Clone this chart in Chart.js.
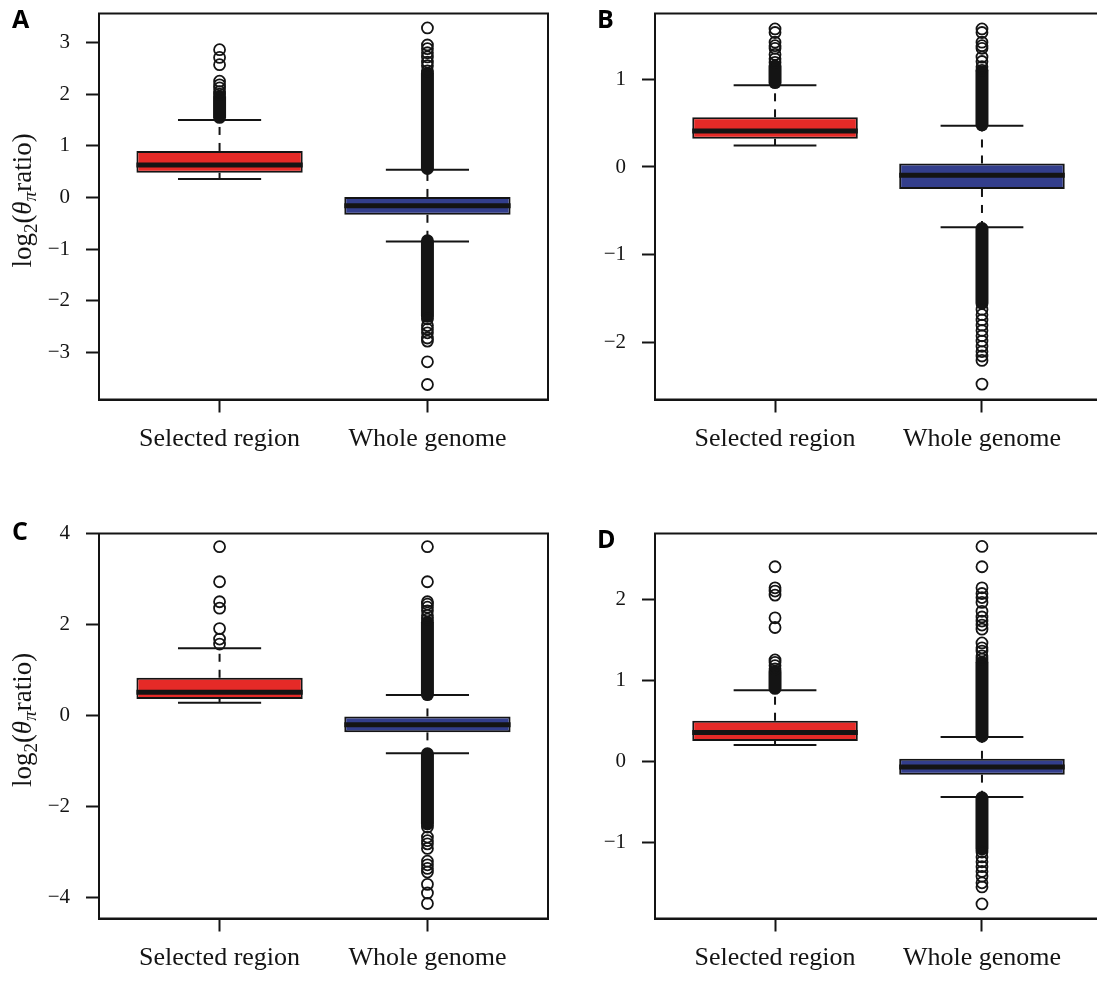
<!DOCTYPE html>
<html>
<head>
<meta charset="utf-8">
<title>theta pi ratio boxplots</title>
<script src="https://cdn.jsdelivr.net/npm/chart.js@4.4.0/dist/chart.umd.min.js"></script>
<style>
  html, body { margin: 0; padding: 0; background: #fff; overflow: hidden; width: 1097px; height: 981px; }
  .panel { position: absolute; }
</style>
</head>
<body>
<div class="panel" id="wrapA"><canvas id="chartA" width="560" height="480"></canvas></div>
<div class="panel" id="wrapB"><canvas id="chartB" width="560" height="480"></canvas></div>
<div class="panel" id="wrapC"><canvas id="chartC" width="560" height="480"></canvas></div>
<div class="panel" id="wrapD"><canvas id="chartD" width="560" height="480"></canvas></div>

<script>
// Groups on the x axis
const groupNames = ['Selected region', 'Whole genome'];

// Box stats per group: [lower whisker, Q1, median, Q3, upper whisker]
// dense = runs of outliers so close they read as a solid column: [from, to]
// out = single outliers that can be told apart

// Panel A
const statsA_sel = [0.355, 0.48, 0.63, 0.90, 1.50];
const statsA_whole = [-0.85, -0.335, -0.16, 0.01, 0.535];
const denseA_sel = [[1.55, 1.95]];
const denseA_whole = [[0.56, 2.40], [-0.84, -2.30]];
const outA_sel = [2.0, 2.05, 2.12, 2.18, 2.25, 2.57, 2.71, 2.86];
const outA_whole = [2.45, 2.55, 2.62, 2.72, 2.8, 2.88, 2.95, 3.28, -2.35, -2.48, -2.55, -2.62, -2.72, -2.78, -3.18, -3.62];
const yRangeA = [-3.91, 3.56];
const yTicksA = [-3, -2, -1, 0, 1, 2, 3];

// Panel B
const statsB_sel = [0.245, 0.32, 0.41, 0.565, 0.93];
const statsB_whole = [-0.685, -0.25, -0.095, 0.04, 0.47];
const denseB_sel = [[0.96, 1.15]];
const denseB_whole = [[0.48, 1.08], [-0.70, -1.55]];
const outB_sel = [1.19, 1.23, 1.28, 1.35, 1.38, 1.42, 1.53, 1.57];
const outB_whole = [1.1, 1.14, 1.2, 1.25, 1.35, 1.38, 1.42, 1.53, 1.57,
  -1.62, -1.68, -1.74, -1.8, -1.86, -1.92, -1.98, -2.04, -2.1, -2.15, -2.2, -2.47];
const yRangeB = [-2.645, 1.746];
const yTicksB = [-2, -1, 0, 1];

// Panel C
const statsC_sel = [0.28, 0.365, 0.51, 0.83, 1.48];
const statsC_whole = [-0.83, -0.37, -0.2, -0.02, 0.45];
const denseC_sel = [];
const denseC_whole = [[0.46, 2.05], [-0.84, -2.38]];
const outC_sel = [1.57, 1.68, 1.91, 2.36, 2.50, 2.94, 3.71];
const outC_whole = [2.12, 2.2, 2.3, 2.38, 2.45, 2.5, 2.94, 3.71,
  -2.45, -2.67, -2.75, -2.82, -2.92, -3.2, -3.28, -3.36, -3.44, -3.71, -3.9, -4.13];
const yRangeC = [-4.46, 4.0];
const yTicksC = [-4, -2, 0, 2, 4];

// Panel D
const statsD_sel = [0.2, 0.25, 0.355, 0.5, 0.875];
const statsD_whole = [-0.44, -0.165, -0.07, 0.03, 0.30];
const denseD_sel = [[0.9, 1.1]];
const denseD_whole = [[0.31, 1.22], [-0.45, -1.08]];
const outD_sel = [1.14, 1.18, 1.22, 1.25, 1.65, 1.77, 2.05, 2.10, 2.14, 2.40];
const outD_whole = [1.26, 1.3, 1.36, 1.4, 1.46, 1.63, 1.68, 1.73, 1.78, 1.85, 1.96, 2.02, 2.07, 2.14, 2.40, 2.65,
  -1.12, -1.18, -1.24, -1.3, -1.36, -1.42, -1.5, -1.55, -1.76];
const yRangeD = [-1.94, 2.81];
const yTicksD = [-1, 0, 1, 2];

const RED = '#E52A27';
const BLUE = '#333E8C';
const INK = '#141414';
const SERIF = '"Liberation Serif", "Times New Roman", serif';

function segment(points, width, dash, order) {
    return {
        type: 'line',
        data: points,
        borderColor: INK,
        borderWidth: width,
        borderDash: dash,
        pointRadius: 0,
        fill: false,
        tension: 0,
        order: order
    };
}

function buildDatasets(stats, dense, outs) {
    const datasets = [];

    // boxes as floating bars from Q1 to Q3
    datasets.push({
        type: 'bar',
        data: stats.map((s, i) => ({ x: i + 1, y: [s[1], s[3]] })),
        backgroundColor: [RED, BLUE],
        borderColor: INK,
        borderWidth: 2,
        borderSkipped: false,
        barPercentage: 0.8,
        categoryPercentage: 1,
        grouped: false,
        order: 3
    });

    stats.forEach((s, i) => {
        const x = i + 1;
        // median
        datasets.push(segment([{ x: x - 0.4, y: s[2] }, { x: x + 0.4, y: s[2] }], 5, [], 2));
        // dashed whiskers
        datasets.push(segment([{ x: x, y: s[3] }, { x: x, y: s[4] }], 2, [8, 8], 4));
        datasets.push(segment([{ x: x, y: s[1] }, { x: x, y: s[0] }], 2, [8, 8], 4));
        // staples
        datasets.push(segment([{ x: x - 0.2, y: s[4] }, { x: x + 0.2, y: s[4] }], 2, [], 4));
        datasets.push(segment([{ x: x - 0.2, y: s[0] }, { x: x + 0.2, y: s[0] }], 2, [], 4));
        // solid runs of overlapping outliers
        dense[i].forEach(r => {
            const run = segment([{ x: x, y: r[0] }, { x: x, y: r[1] }], 13, [], 1);
            run.borderCapStyle = 'round';
            datasets.push(run);
        });
        // single outliers, open circles
        datasets.push({
            type: 'scatter',
            data: outs[i].map(v => ({ x: x, y: v })),
            pointRadius: 5.5,
            pointHoverRadius: 5.5,
            pointBorderWidth: 1.8,
            pointBorderColor: INK,
            pointBackgroundColor: 'rgba(0,0,0,0)',
            order: 0
        });
    });
    return datasets;
}

// log2(theta_pi ratio) written sideways, with subscripts
function drawYTitle(ctx, cx, cy) {
    const parts = [
        { t: 'log', f: '27px ' + SERIF, dy: 0 },
        { t: '2', f: '19px ' + SERIF, dy: 6 },
        { t: '(', f: '27px ' + SERIF, dy: 0 },
        { t: '\u03B8', f: 'italic 27px ' + SERIF, dy: 0 },
        { t: '\u03C0', f: 'italic 19px ' + SERIF, dy: 5 },
        { t: 'ratio)', f: '27px ' + SERIF, dy: 0 }
    ];
    let total = 0;
    parts.forEach(p => { ctx.font = p.f; p.w = ctx.measureText(p.t).width; total += p.w; });
    ctx.save();
    ctx.translate(cx, cy);
    ctx.rotate(-Math.PI / 2);
    ctx.fillStyle = INK;
    ctx.textBaseline = 'alphabetic';
    let x = -total / 2;
    parts.forEach(p => { ctx.font = p.f; ctx.fillText(p.t, x, p.dy); x += p.w; });
    ctx.restore();
}

// frame round the plot, panel letter and (left column only) the y title
function decor(p) {
    return {
        id: 'decor',
        afterDraw(chart) {
            const ctx = chart.ctx;
            const a = chart.chartArea;
            ctx.save();
            ctx.strokeStyle = INK;
            ctx.lineWidth = 2;
            ctx.strokeRect(a.left, a.top, a.right - a.left, a.bottom - a.top);
            ctx.fillStyle = '#000';
            ctx.font = 'bold 25px "Open Sans", "DejaVu Sans", sans-serif';
            ctx.textBaseline = 'alphabetic';
            ctx.fillText(p.letter, a.left + p.letterDx, a.top + p.letterDy);
            ctx.restore();
            if (p.title) drawYTitle(ctx, a.left - 68, (a.top + a.bottom) / 2 - 6);
        }
    };
}

function makePanel(id, wrapId, p) {
    const axisBorder = { display: true, color: INK, width: 2 };
    const axisGrid = {
        display: true,
        offset: false,
        drawOnChartArea: false,
        drawTicks: true,
        tickLength: 13,
        tickWidth: 2,
        tickColor: INK
    };

    const chart = new Chart(document.getElementById(id), {
        type: 'scatter',
        data: { datasets: buildDatasets(p.stats, p.dense, p.outs) },
        options: {
            responsive: false,
            maintainAspectRatio: false,
            animation: false,
            events: [],
            layout: { padding: { top: 0, right: 0, left: 0, bottom: 0 } },
            plugins: { legend: { display: false }, tooltip: { enabled: false } },
            scales: {
                x: {
                    type: 'linear',
                    min: 0.42,
                    max: 2.58,
                    offset: false,
                    afterFit: s => { s.height = 71; },
                    afterBuildTicks: s => { s.ticks = [{ value: 1 }, { value: 2 }]; },
                    ticks: {
                        callback: v => groupNames[v - 1],
                        font: { family: SERIF, size: 26 },
                        color: INK,
                        padding: 11,
                        maxRotation: 0,
                        autoSkip: false
                    },
                    grid: axisGrid,
                    border: axisBorder
                },
                y: {
                    type: 'linear',
                    min: p.yRange[0],
                    max: p.yRange[1],
                    afterFit: s => { s.width = p.yAxisW; },
                    afterBuildTicks: s => { s.ticks = p.yTicks.map(v => ({ value: v })); },
                    ticks: {
                        callback: v => (v < 0 ? '\u2212' + Math.abs(v) : String(v)),
                        font: { family: SERIF, size: 21, lineHeight: 1 },
                        color: INK,
                        padding: 16
                    },
                    grid: axisGrid,
                    border: axisBorder
                }
            }
        },
        plugins: [decor(p)]
    });

    // size the canvas so the plot box has the wanted size, then move it in place
    const t = p.area;
    for (let k = 0; k < 3; k++) {
        const a = chart.chartArea;
        const dw = (t[2] - t[0]) - (a.right - a.left);
        const dh = (t[3] - t[1]) - (a.bottom - a.top);
        if (Math.abs(dw) > 0.1 || Math.abs(dh) > 0.1) chart.resize(chart.width + dw, chart.height + dh);
    }
    const a = chart.chartArea;
    const wrap = document.getElementById(wrapId);
    wrap.style.left = (t[0] - a.left) + 'px';
    wrap.style.top = (t[1] - a.top) + 'px';
}

// plot boxes on the page: [left, top, right, bottom]
makePanel('chartA', 'wrapA', {
    stats: [statsA_sel, statsA_whole], dense: [denseA_sel, denseA_whole], outs: [outA_sel, outA_whole],
    yRange: yRangeA, yTicks: yTicksA, yAxisW: 99, area: [99, 13, 548, 399],
    letter: 'A', letterDx: -87, letterDy: 14, title: true
});
makePanel('chartB', 'wrapB', {
    stats: [statsB_sel, statsB_whole], dense: [denseB_sel, denseB_whole], outs: [outB_sel, outB_whole],
    yRange: yRangeB, yTicks: yTicksB, yAxisW: 107, area: [655, 13, 1102, 399],
    letter: 'B', letterDx: -58, letterDy: 14, title: false
});
makePanel('chartC', 'wrapC', {
    stats: [statsC_sel, statsC_whole], dense: [denseC_sel, denseC_whole], outs: [outC_sel, outC_whole],
    yRange: yRangeC, yTicks: yTicksC, yAxisW: 99, area: [99, 533, 548, 918],
    letter: 'C', letterDx: -87, letterDy: 6, title: true
});
makePanel('chartD', 'wrapD', {
    stats: [statsD_sel, statsD_whole], dense: [denseD_sel, denseD_whole], outs: [outD_sel, outD_whole],
    yRange: yRangeD, yTicks: yTicksD, yAxisW: 107, area: [655, 533, 1102, 918],
    letter: 'D', letterDx: -58, letterDy: 14, title: false
});
</script>
</body>
</html>
